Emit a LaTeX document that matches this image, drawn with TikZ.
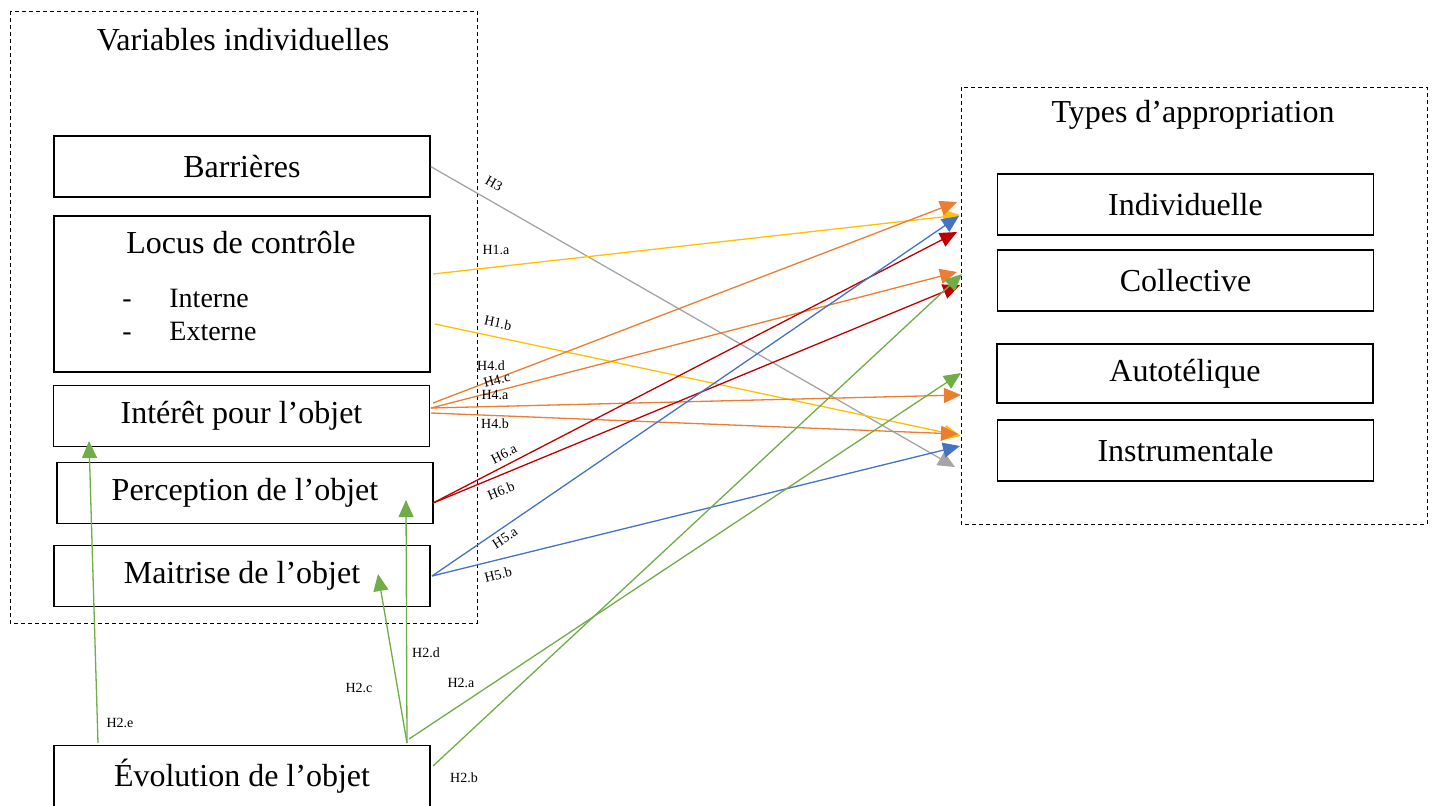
\documentclass[tikz,border=0pt]{standalone}
\usepackage{fontspec}
\setmainfont{Liberation Serif}
\usetikzlibrary{arrows.meta}

\definecolor{hyel}{HTML}{FFC000}
\definecolor{hora}{HTML}{ED7D31}
\definecolor{hred}{HTML}{C00000}
\definecolor{hblu}{HTML}{4472C4}
\definecolor{hgre}{HTML}{70AD47}
\definecolor{hgry}{HTML}{A5A5A5}

\tikzset{
  var/.style={draw,line width=0.65pt,minimum width=188pt,minimum height=30.5pt,inner sep=0pt,font=\fontsize{16}{19}\selectfont},
  grp/.style={draw,line width=0.5pt,dash pattern=on 2pt off 1.5pt},
  hyp/.style={line width=0.65pt,-{Triangle[length=8.5pt,width=7.5pt]}},
  lab/.style={font=\fontsize{7}{8}\selectfont,inner sep=0pt},
  item/.style={font=\fontsize{14}{17}\selectfont,anchor=base west,inner sep=0pt},
}

\begin{document}
\begin{tikzpicture}[x=0.5pt,y=-0.5pt]
\useasboundingbox (0,0) rectangle (1437,805);

% groups
\draw[grp] (10,11) rectangle (477,623);
\draw[grp] (961,87) rectangle (1427,524);
\node[font=\fontsize{16}{19}\selectfont] (titvar) at (243,40) {Variables individuelles};
\node[font=\fontsize{16}{19}\selectfont] (tittyp) at (1193,115) {Types d’appropriation};

% individual variables
\node[var] (barr) at (242,166.5) {Barrières};
\node[var,minimum height=78pt] (locus) at (242,294) {};
\node[font=\fontsize{16}{19}\selectfont] (loctit) at (241,243) {Locus de contrôle};
\node[item] (dash1) at (122,307) {-};
\node[item] (dash2) at (122,340) {-};
\node[item] (intern) at (169,307) {Interne};
\node[item] (extern) at (169,340) {Externe};
\node[var] (inte) at (241.5,416) {Intérêt pour l’objet};
\node[var] (perc) at (245,493) {Perception de l’objet};
\node[var] (mait) at (242,576) {Maitrise de l’objet};
\node[var] (evol) at (242,776) {Évolution de l’objet};

% types
\node[var] (indi) at (1185.5,204.5) {Individuelle};
\node[var] (coll) at (1185.5,280.5) {Collective};
\node[var,minimum height=29.5pt] (auto) at (1185,373.5) {Autotélique};
\node[var] (inst) at (1185.5,450.5) {Instrumentale};

% start points
\coordinate (s-h1a) at (433,274);
\coordinate (s-h1b) at (435,324);
\coordinate (s-h4d) at (433,403);
\coordinate (s-h4c) at (431,408);
\coordinate (s-h4b) at (431,413);
\coordinate (s-h6) at (433,503);
\coordinate (s-h5) at (432,576);
\coordinate (s-h2a) at (409,739);
\coordinate (s-h2cd) at (407,743);
\coordinate (s-h2b) at (433,766);
\coordinate (s-h2e) at (98,743);

% end points
\coordinate (e-or1) at (957,202);
\coordinate (e-ye1) at (960,215);
\coordinate (e-bl1) at (959,216);
\coordinate (e-re1) at (957,232);
\coordinate (e-or2) at (957,272);
\coordinate (e-gr1) at (962,274);
\coordinate (e-re2) at (960,285);
\coordinate (e-gr2) at (961,373);
\coordinate (e-or3) at (961,395);
\coordinate (e-or4) at (958,434);
\coordinate (e-ye2) at (961,436);
\coordinate (e-bl2) at (960,446);
\coordinate (e-gy) at (955,467);
\coordinate (e-h2c) at (378,574);
\coordinate (e-h2d) at (406,500);
\coordinate (e-h2e) at (89,441);

% hypotheses
\draw[hyp,hgry] (barr.east) -- (e-gy);
\draw[hyp,hyel] (s-h1a) -- (e-ye1);
\draw[hyp,hyel] (s-h1b) -- (e-ye2);
\draw[hyp,hora] (s-h4d) -- (e-or1);
\draw[hyp,hora] (s-h4c) -- (e-or2);
\draw[hyp,hora] (s-h4c) -- (e-or3);
\draw[hyp,hora] (s-h4b) -- (e-or4);
\draw[hyp,hred] (s-h6) -- (e-re1);
\draw[hyp,hred] (s-h6) -- (e-re2);
\draw[hyp,hblu] (s-h5) -- (e-bl1);
\draw[hyp,hblu] (s-h5) -- (e-bl2);
\draw[hyp,hgre] (s-h2a) -- (e-gr2);
\draw[hyp,hgre] (s-h2b) -- (e-gr1);
\draw[hyp,hgre] (s-h2cd) -- (e-h2c);
\draw[hyp,hgre] (s-h2cd) -- (e-h2d);
\draw[hyp,hgre] (s-h2e) -- (e-h2e);

% labels
\node[lab,rotate=-29] (l-h3) at (494,184) {H3};
\node[lab] (l-h1a) at (496,250) {H1.a};
\node[lab,rotate=-12] (l-h1b) at (498,323) {H1.b};
\node[lab] (l-h4d) at (491,366) {H4.d};
\node[lab,rotate=15] (l-h4c) at (497,380) {H4.c};
\node[lab] (l-h4a) at (495,395) {H4.a};
\node[lab] (l-h4b) at (495,424) {H4.b};
\node[lab,rotate=27] (l-h6a) at (504,454) {H6.a};
\node[lab,rotate=22] (l-h6b) at (501,491) {H6.b};
\node[lab,rotate=33] (l-h5a) at (505,538) {H5.a};
\node[lab,rotate=14] (l-h5b) at (498,575) {H5.b};
\node[lab] (l-h2d) at (426,653) {H2.d};
\node[lab] (l-h2c) at (359,688) {H2.c};
\node[lab] (l-h2a) at (461,683) {H2.a};
\node[lab] (l-h2b) at (464,778) {H2.b};
\node[lab] (l-h2e) at (120,723) {H2.e};
\end{tikzpicture}
\end{document}
